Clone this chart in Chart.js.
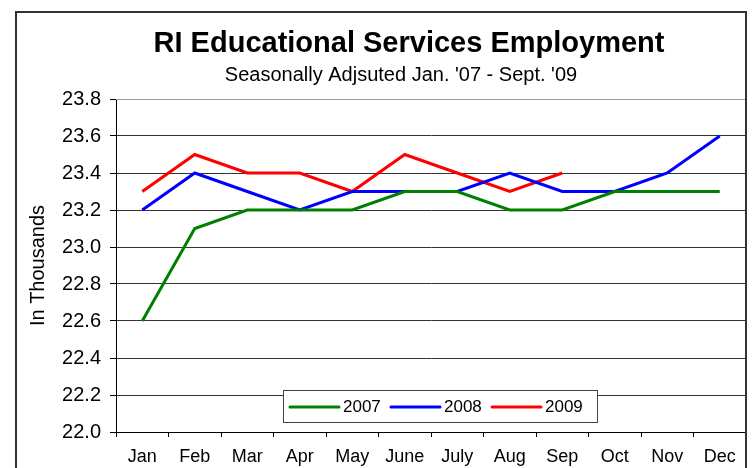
<!DOCTYPE html>
<html>
<head>
<meta charset="utf-8">
<script src="https://cdn.jsdelivr.net/npm/chart.js@4.4.1/dist/chart.umd.min.js"></script>
<style>
  html, body { margin: 0; padding: 0; background: #fff; }
  #wrap { width: 753px; height: 468px; }
</style>
</head>
<body>
<div id="wrap"><canvas id="chart"></canvas></div>
<script>
var months = ['Jan', 'Feb', 'Mar', 'Apr', 'May', 'June', 'July', 'Aug', 'Sep', 'Oct', 'Nov', 'Dec'];
var yearLabels = ['2007', '2008', '2009'];
var values2007 = [22.6, 23.1, 23.2, 23.2, 23.2, 23.3, 23.3, 23.2, 23.2, 23.3, 23.3, 23.3];
var values2008 = [23.2, 23.4, 23.3, 23.2, 23.3, 23.3, 23.3, 23.4, 23.3, 23.3, 23.4, 23.6];
var values2009 = [23.3, 23.5, 23.4, 23.4, 23.3, 23.5, 23.4, 23.3, 23.4];
var lineColors = ['#008000', '#0000ff', '#ff0000'];
var titleText = 'RI Educational Services Employment';
var subtitleText = "Seasonally Adjsuted Jan. '07 - Sept. '09";
var FONT = "'Liberation Sans', Arial, sans-serif";

// frame around the whole chart, right edge of the plot, and the titles
var framePlugin = {
	id: 'frame',
	afterDraw: function(chart){
		var ctx = chart.ctx;
		var a = chart.chartArea;
		ctx.save();
		ctx.strokeStyle = '#999';
		ctx.lineWidth = 1;
		ctx.beginPath();
		ctx.moveTo(a.left, a.top + 0.5);
		ctx.lineTo(a.right, a.top + 0.5);
		ctx.moveTo(a.right - 0.5, a.top);
		ctx.lineTo(a.right - 0.5, a.bottom);
		ctx.stroke();
		ctx.strokeStyle = '#333';
		ctx.lineWidth = 2;
		ctx.strokeRect(16, 12, 730, 480);

		ctx.fillStyle = '#000';
		ctx.textAlign = 'center';
		ctx.textBaseline = 'alphabetic';
		ctx.font = 'bold 29px ' + FONT;
		ctx.fillText(titleText, 409, 52);
		ctx.font = '20px ' + FONT;
		ctx.fillText(subtitleText, 401, 81);
		ctx.restore();
	}
};

// legend box sitting inside the plot, near the bottom
var boxLegend = {
	id: 'boxLegend',
	afterDraw: function(chart){
		var ctx = chart.ctx;
		var x0 = 283, y0 = 390, w = 314, h = 32;
		ctx.save();
		ctx.fillStyle = '#fff';
		ctx.fillRect(x0, y0, w, h);
		ctx.strokeStyle = '#444';
		ctx.lineWidth = 1;
		ctx.strokeRect(x0 + 0.5, y0 + 0.5, w, h);
		ctx.font = '17px ' + FONT;
		ctx.textBaseline = 'middle';
		ctx.fillStyle = '#000';
		var x = x0 + 7;
		var cy = y0 + h / 2 + 1;
		chart.data.datasets.forEach(function(ds){
			ctx.strokeStyle = ds.borderColor;
			ctx.lineWidth = 3;
			ctx.lineCap = 'round';
			ctx.beginPath();
			ctx.moveTo(x, cy);
			ctx.lineTo(x + 49, cy);
			ctx.stroke();
			ctx.fillText(ds.label, x + 53, cy);
			x += 101;
		});
		ctx.restore();
	}
};

var ctx = document.getElementById('chart').getContext('2d');
var myChart = new Chart(ctx, {
	type: 'line',
	data: {
		labels: months,
		datasets: [
			{label: yearLabels[0], data: values2007, borderColor: lineColors[0]},
			{label: yearLabels[1], data: values2008, borderColor: lineColors[1]},
			{label: yearLabels[2], data: values2009, borderColor: lineColors[2]}
		]
	},
	options: {
		responsive: true,
		maintainAspectRatio: false,
		animation: false,
		events: [],
		elements: {
			line: {borderWidth: 3, tension: 0, fill: false},
			point: {radius: 0}
		},
		layout: {padding: {left: 20, right: 7, top: 99, bottom: 0}},
		plugins: {
			legend: {display: false},
			tooltip: {enabled: false},
			title: {display: false}
		},
		scales: {
			x: {
				offset: true,
				afterFit: function(scale){ scale.height = 36; },
				grid: {
					offset: true,
					drawOnChartArea: false,
					drawTicks: true,
					tickLength: 5,
					tickColor: '#000'
				},
				border: {color: '#000', width: 1},
				ticks: {
					color: '#000',
					font: {family: FONT, size: 18},
					padding: 9,
					maxRotation: 0,
					autoSkip: false
				}
			},
			y: {
				min: 22.0,
				max: 23.8,
				afterFit: function(scale){ scale.width = 96; },
				grid: {
					color: '#333',
					tickLength: 6,
					tickColor: '#000'
				},
				border: {color: '#000', width: 1},
				ticks: {
					stepSize: 0.2,
					color: '#000',
					font: {family: FONT, size: 20},
					padding: 9,
					callback: function(v){ return Number(v).toFixed(1); }
				},
				title: {
					display: true,
					text: 'In Thousands',
					color: '#000',
					font: {family: FONT, size: 20, lineHeight: 1.2},
					padding: {top: 6, bottom: 0}
				}
			}
		}
	},
	plugins: [framePlugin, boxLegend]
});
</script>
</body>
</html>
